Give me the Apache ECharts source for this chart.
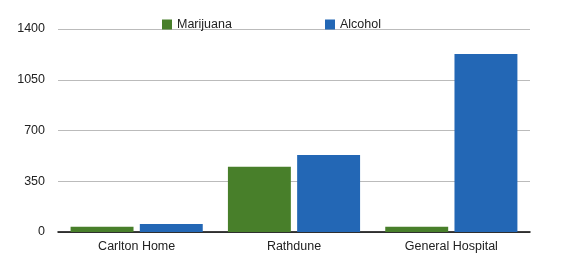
<!DOCTYPE html>
<html><head><meta charset="utf-8">
<script src="https://cdn.jsdelivr.net/npm/echarts@6/dist/echarts.min.js"></script>
<style>html,body{margin:0;padding:0;background:#fff}#c{width:565px;height:274px}</style>
</head><body><div id="c"></div>
<script>
const categories = ['Carlton Home', 'Rathdune', 'General Hospital'];
const marijuana = [36, 450, 36];
const alcohol = [55, 531, 1228];
const yTicks = [0, 350, 700, 1050, 1400];

const font = 'Liberation Sans, Arial, Helvetica, sans-serif';
const chart = echarts.init(document.getElementById('c'), null, {renderer: 'canvas'});
chart.setOption({
  animation: false,
  textStyle: {fontFamily: font},
  legend: [
    {data: ['Marijuana'], left: 157, top: 13, itemWidth: 10, itemHeight: 10, itemGap: 0,
     textStyle: {fontFamily: font, fontSize: 12.5, color: '#222'}, icon: 'rect'},
    {data: ['Alcohol'], left: 320, top: 13, itemWidth: 10, itemHeight: 10, itemGap: 0,
     textStyle: {fontFamily: font, fontSize: 12.5, color: '#222'}, icon: 'rect'}
  ],
  grid: {left: 58, right: 35, top: 29, bottom: 42, containLabel: false},
  xAxis: {
    type: 'category', data: categories,
    axisLine: {lineStyle: {color: '#000', width: 1.5}},
    axisTick: {show: false},
    axisLabel: {color: '#222', fontSize: 12.5, margin: 8, fontFamily: font}
  },
  yAxis: {
    type: 'value', min: yTicks[0], max: yTicks[yTicks.length - 1], interval: 350,
    axisLine: {show: false}, axisTick: {show: false},
    splitLine: {lineStyle: {color: '#bbbbbb'}},
    axisLabel: {color: '#222', fontSize: 12.5, margin: 13, fontFamily: font,
      formatter: function (v) { return String(v); }}
  },
  series: [
    {name: 'Marijuana', type: 'bar', data: marijuana, itemStyle: {color: '#487f2a'},
     barGap: '10%', barCategoryGap: '16%'},
    {name: 'Alcohol', type: 'bar', data: alcohol, itemStyle: {color: '#2367b5'},
     barGap: '10%', barCategoryGap: '16%'}
  ]
});
</script></body></html>
